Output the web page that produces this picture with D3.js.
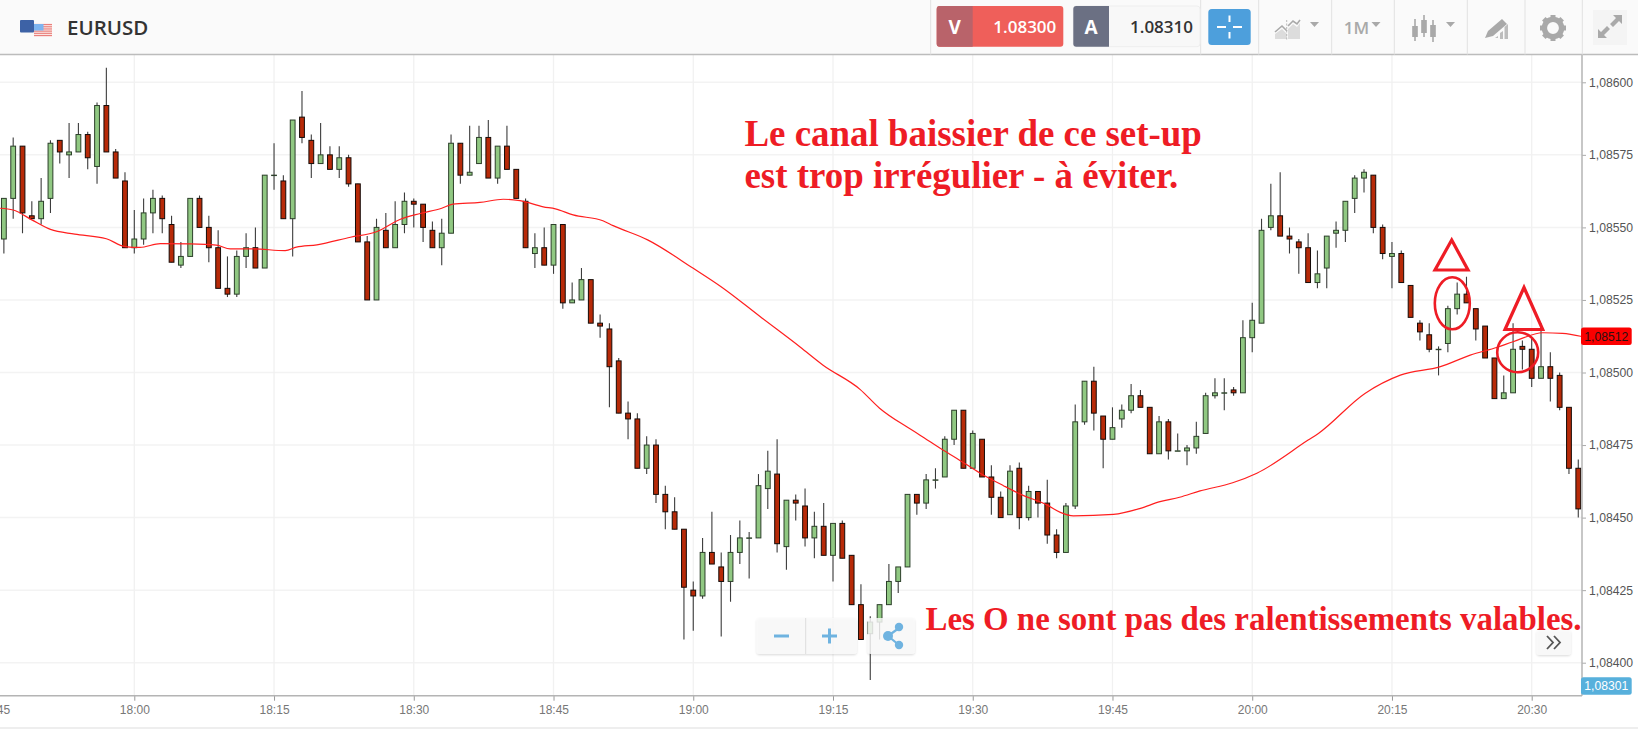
<!DOCTYPE html>
<html>
<head>
<meta charset="utf-8">
<title>EURUSD</title>
<script src="https://cdn.jsdelivr.net/npm/d3@7"></script>
<style>
  html, body { margin: 0; padding: 0; background: #fff; overflow: hidden; }
  svg { display: block; }
</style>
</head>
<body>
<svg id="chart" width="1638" height="730"></svg>
<script>
// prices are in points above 1.08000, one candle per minute
const firstMinute = -14; // 17:46
const opens = [546,560,578,554,553,560,580,575,576,582,571,592,576,566,543,546,555,560,551,537,540,560,550,543,529,527,540,543,536,568,
  566,553,588,580,572,575,570,574,565,545,525,549,543,551,559,558,549,543,548,579,568,572,581,567,578,570,559,541,543,537,
  551,524,525,532,517,515,504,486,484,467,475,458,452,446,425,423,438,433,428,438,443,443,460,465,440,456,454,443,447,437,
  448,437,420,410,414,420,428,433,458,455,463,464,477,487,467,477,464,457,451,467,450,459,455,444,438,454,483,497,485,477,
  484,487,492,488,472,483,473,473,474,479,492,493,494,493,512,517,550,554,547,545,543,531,536,548,549,560,567,568,550,540,
  541,530,517,513,508,510,522,527,522,516,505,491,493,509,508,498,502,499,488,467];
const highs = [560,581,578,559,567,580,580,586,586,583,593,605,577,569,556,560,563,561,554,545,560,561,554,549,540,542,548,550,568,579,
  568,587,597,582,586,578,578,575,565,547,553,555,559,562,560,558,552,553,582,579,585,585,587,578,585,570,560,548,550,551,
  551,531,536,532,520,517,505,490,486,478,477,461,457,446,428,443,452,438,444,449,445,465,473,477,456,458,460,452,455,448,
  449,437,427,416,420,434,433,458,458,465,467,478,487,487,480,477,468,459,468,469,461,459,463,446,455,489,497,502,485,488,
  489,496,494,488,485,484,479,475,483,493,498,498,495,518,524,553,565,569,550,546,548,542,547,552,559,568,570,568,551,545,
  542,530,518,517,509,523,531,533,522,516,505,499,517,511,512,517,507,500,488,470];
const lows = [541,553,548,553,551,555,572,567,576,570,565,576,567,543,541,544,548,548,538,536,540,550,538,529,526,526,536,536,536,563,
  553,540,579,567,572,570,567,564,545,525,525,543,543,548,550,545,543,537,548,565,568,572,567,565,570,560,543,536,537,534,
  522,524,525,517,512,488,486,477,467,465,455,446,446,408,411,422,434,409,421,434,429,443,453,438,432,449,440,436,437,428,
  436,420,408,394,408,420,424,433,451,453,460,464,475,467,467,464,451,450,451,446,449,450,441,436,438,453,482,480,467,477,
  481,486,488,472,472,470,473,468,472,479,491,487,492,493,507,517,549,547,541,534,531,529,529,543,545,555,562,548,539,529,
  531,519,511,507,499,507,520,524,511,505,491,491,493,501,495,498,490,487,465,450];
const closes = [560,578,555,553,559,579,576,576,582,574,592,576,567,543,546,555,560,553,538,540,560,550,543,529,527,540,543,536,568,568,
  553,587,581,572,575,570,574,565,545,525,550,543,551,559,558,550,543,548,579,568,569,581,567,578,570,560,543,543,537,551,
  524,525,532,517,516,502,486,484,467,475,458,452,446,426,423,438,434,428,438,443,443,461,466,441,456,455,443,447,437,448,
  436,420,408,414,420,428,433,458,455,463,463,477,487,467,479,464,457,450,466,450,459,455,444,438,454,483,497,486,477,481,
  487,492,488,472,483,473,473,474,478,492,493,493,493,512,518,549,554,547,546,543,531,534,547,549,559,567,569,550,541,541,
  531,519,514,508,508,522,527,524,515,505,491,493,508,508,498,502,498,488,467,453];

// moving average: minutes from 18:00, points above 1.08000
const maMinutes = [-14.4,-13,-11,-9,-6.4,-3,-1,0.6,2.8,6,8.8,10.3,12.7,16.2,17.4,19.6,23.2,26,28.5,30.7,33,34.2,37.1,39.6,41.4,43.9,45.2,47.1,
  50.3,51.4,55.1,60,63.1,67.2,71.5,73.9,77.9,80,83,84.3,86.8,88.3,90.8,93.3,95.1,98,99.4,100.8,105.1,108,110.1,112.2,114.4,117.9,120.5,
  126,127.1,132.1,135.9,140.2,143.4,146.3,148,151.2,153.3,155.4];
const maValues = [556.6,556,552.6,549.3,547.7,546.1,543.4,543.1,544.4,544.3,543.9,542.6,542.6,542,543.2,544,546.6,548.5,552.7,554.8,556.6,558,
  558.6,559.7,559.2,557.1,556.4,554.3,552.3,550.6,545.7,535.9,529.3,519.2,508.7,502.6,494.2,487.7,481.1,478.5,473.3,470.4,465.3,461,458.1,
  454.3,451.8,450.6,451.1,453.2,455.5,457,459.2,462,465.3,476.7,479,492.8,499.1,502,506,508.7,510.6,513.7,513.5,512.4];

const timeMinutes = [-15,0,15,30,45,60,75,90,105,120,135,150];
const timeLabels = ["17:45","18:00","18:15","18:30","18:45","19:00","19:15","19:30","19:45","20:00","20:15","20:30"];
const priceTicks = [400,425,450,475,500,525,550,575,600];

const axisFont = "'Liberation Sans', Arial, sans-serif";
const uiFont = "'Open Sans', sans-serif";
const serifFont = "'Liberation Serif', 'Times New Roman', serif";
const annotationRed = "#ee1c25";

const svg = d3.select("#chart");
const x = d3.scaleLinear().domain([0, 150]).range([134.3, 1531.7]);
const y = d3.scaleLinear().domain([400, 600]).range([662.7, 82.3]);
const plotRight = 1582, plotTop = 54.5, plotBottom = 695.7;

svg.append("clipPath").attr("id", "plot").append("rect")
  .attr("x", 0).attr("y", plotTop).attr("width", plotRight).attr("height", plotBottom - plotTop);

const plot = svg.append("g").attr("clip-path", "url(#plot)");

// grid
plot.selectAll(".hgrid").data(priceTicks).join("line")
  .attr("x1", 0).attr("x2", plotRight)
  .attr("y1", d => y(d)).attr("y2", d => y(d))
  .attr("stroke", "#f3f3f3").attr("stroke-width", 1.5);
plot.selectAll(".vgrid").data(timeMinutes).join("line")
  .attr("x1", d => x(d)).attr("x2", d => x(d))
  .attr("y1", plotTop).attr("y2", plotBottom)
  .attr("stroke", "#f1f1f1").attr("stroke-width", 1.3);

// candles
const candles = opens.map((o, i) => ({
  minute: firstMinute + i, open: o, high: highs[i], low: lows[i], close: closes[i]
}));
plot.selectAll(".wick").data(candles).join("line")
  .attr("x1", d => x(d.minute)).attr("x2", d => x(d.minute))
  .attr("y1", d => y(d.high)).attr("y2", d => y(d.low))
  .attr("stroke", "#3c3c3c").attr("stroke-width", 1.1);
plot.selectAll(".body").data(candles).join("rect")
  .attr("x", d => x(d.minute) - 2.4)
  .attr("width", 4.8)
  .attr("y", d => y(Math.max(d.open, d.close)))
  .attr("height", d => Math.max(0.4, Math.abs(y(d.open) - y(d.close))))
  .attr("fill", d => d.close >= d.open ? "#90c882" : "#b72a08")
  .attr("stroke", d => d.close >= d.open ? "#2c3f2a" : "#140b08")
  .attr("stroke-width", 1);

// moving average
const maLine = d3.line().x(d => x(d[0])).y(d => y(d[1])).curve(d3.curveMonotoneX);
plot.append("path")
  .datum(maMinutes.map((m, i) => [m, maValues[i]]))
  .attr("d", maLine)
  .attr("fill", "none").attr("stroke", "#ff1f1f").attr("stroke-width", 1.2);

// axes
const yAxis = d3.axisRight(y).tickValues(priceTicks).tickSize(4).tickPadding(3)
  .tickFormat(d => (1.08 + d / 100000).toFixed(5).replace(".", ","));
const yg = svg.append("g").attr("transform", `translate(${plotRight},0)`).call(yAxis);
yg.select(".domain").remove();
yg.selectAll("line").attr("stroke", "#aaa");
yg.selectAll("text").attr("font-family", axisFont).attr("font-size", 12.2).attr("fill", "#555");

const xAxis = d3.axisBottom(x).tickValues(timeMinutes).tickSize(5).tickPadding(5)
  .tickFormat((d, i) => timeLabels[i]);
const xg = svg.append("g").attr("transform", `translate(0,${plotBottom})`).call(xAxis);
xg.select(".domain").remove();
xg.selectAll("line").attr("stroke", "#999");
xg.selectAll("text").attr("font-family", axisFont).attr("font-size", 12).attr("fill", "#777");

svg.append("line").attr("x1", plotRight).attr("x2", plotRight).attr("y1", plotTop).attr("y2", plotBottom)
  .attr("stroke", "#b4b4b4").attr("stroke-width", 1.5);
svg.append("line").attr("x1", 0).attr("x2", plotRight).attr("y1", plotBottom).attr("y2", plotBottom)
  .attr("stroke", "#b4b4b4").attr("stroke-width", 1.5);
svg.append("line").attr("x1", 0).attr("x2", 1638).attr("y1", 728).attr("y2", 728)
  .attr("stroke", "#ddd");

// price tags
function priceTag(yMid, text, fill, color) {
  svg.append("rect").attr("x", 1581).attr("y", yMid - 8.8).attr("width", 50.7).attr("height", 17.6)
    .attr("rx", 2.5).attr("fill", fill);
  svg.append("text").attr("x", 1606.3).attr("y", yMid + 4.3).attr("text-anchor", "middle")
    .attr("font-family", axisFont).attr("font-size", 12.2).attr("fill", color).text(text);
}
priceTag(y(maValues[maValues.length - 1]) - 0.2, "1,08512", "#fb0000", "#2a1010");
priceTag(686, "1,08301", "#57b0dc", "#fff");

// floating controls
const soft = svg.append("defs").append("filter").attr("id", "soft")
  .attr("x", "-10%").attr("y", "-10%").attr("width", "120%").attr("height", "130%");
soft.append("feDropShadow").attr("dx", 0).attr("dy", 1).attr("stdDeviation", 1)
  .attr("flood-color", "#000").attr("flood-opacity", 0.18);

function floatBox(bx, by, w, h) {
  svg.append("rect").attr("x", bx).attr("y", by).attr("width", w).attr("height", h).attr("rx", 3)
    .attr("fill", "#fafafa").attr("fill-opacity", 0.82).attr("filter", "url(#soft)");
}
const controlBlue = "#6fb3e0";
floatBox(756.7, 618, 100, 36);
svg.append("line").attr("x1", 805.7).attr("x2", 805.7).attr("y1", 618).attr("y2", 654).attr("stroke", "#ddd");
svg.append("rect").attr("x", 774).attr("y", 634.5).attr("width", 15).attr("height", 3).attr("fill", controlBlue);
svg.append("rect").attr("x", 822).attr("y", 634.5).attr("width", 15).attr("height", 3).attr("fill", controlBlue);
svg.append("rect").attr("x", 828).attr("y", 628.5).attr("width", 3).attr("height", 15).attr("fill", controlBlue);

floatBox(867.7, 618, 47, 36);
svg.append("path").attr("d", "M888 636 L899 628 M888 636 L899 645")
  .attr("stroke", controlBlue).attr("stroke-width", 2.2);
[[888, 636, 5], [899, 627, 4.2], [899, 645, 4.2]].forEach(c => {
  svg.append("circle").attr("cx", c[0]).attr("cy", c[1]).attr("r", c[2]).attr("fill", controlBlue);
});

floatBox(1536.7, 630, 34, 25);
svg.append("path").attr("d", "M1547 636 L1553 642.5 L1547 649 M1554 636 L1560 642.5 L1554 649")
  .attr("fill", "none").attr("stroke", "#555").attr("stroke-width", 1.8);

// toolbar
svg.append("rect").attr("width", 1638).attr("height", plotTop).attr("fill", "#fafafa");
svg.append("line").attr("x1", 0).attr("x2", 1638).attr("y1", plotTop).attr("y2", plotTop)
  .attr("stroke", "#bcbcbc").attr("stroke-width", 1.3);
[930.7, 1200.7, 1258.7, 1331.7, 1394.3, 1467.3, 1525, 1582.3].forEach(sx => {
  svg.append("line").attr("x1", sx).attr("x2", sx).attr("y1", 0).attr("y2", plotTop).attr("stroke", "#e2e2e2");
});

// flags
svg.append("rect").attr("x", 20).attr("y", 20).attr("width", 14).attr("height", 12.5).attr("rx", 1).attr("fill", "#3d62a6");
svg.append("rect").attr("x", 34).attr("y", 23.5).attr("width", 18).attr("height", 13).attr("fill", "#fbe3e1");
d3.range(6).forEach(i => {
  svg.append("rect").attr("x", 34).attr("y", 24 + i * 2.2).attr("width", 18).attr("height", 1.1).attr("fill", "#e9807c");
});
svg.append("rect").attr("x", 34).attr("y", 24).attr("width", 9.5).attr("height", 6.5).attr("fill", "#7db4f0");

svg.append("text").attr("x", 67).attr("y", 34.5).attr("font-family", uiFont).attr("font-weight", 600)
  .attr("font-size", 20.5).attr("fill", "#333").text("EURUSD");

function quoteBox(bx, w, head, text, headFill, bodyFill, textColor, label) {
  svg.append("rect").attr("x", bx).attr("y", 6).attr("width", w).attr("height", 40.7).attr("rx", 3).attr("fill", bodyFill)
    .attr("stroke", bodyFill === "#f8f8f8" ? "#eee" : "none");
  svg.append("path")
    .attr("d", `M${bx + head} 6 H${bx + 3} Q${bx} 6 ${bx} 9 V43.7 Q${bx} 46.7 ${bx + 3} 46.7 H${bx + head} Z`)
    .attr("fill", headFill);
  svg.append("text").attr("x", bx + head / 2).attr("y", 33.5).attr("text-anchor", "middle")
    .attr("font-family", uiFont).attr("font-weight", 700).attr("font-size", 19).attr("fill", "#fff").text(label);
  svg.append("text").attr("x", bx + w - 7).attr("y", 32.5).attr("text-anchor", "end")
    .attr("font-family", uiFont).attr("font-weight", 600).attr("font-size", 17).attr("fill", textColor).text(text);
}
quoteBox(936.7, 126.6, 36, "1.08300", "#b9636a", "#ef5f5a", "#fff", "V");
quoteBox(1073.3, 126.7, 35.7, "1.08310", "#6b7083", "#f8f8f8", "#333", "A");

svg.append("rect").attr("x", 1208.3).attr("y", 9).attr("width", 42.4).attr("height", 36).attr("rx", 3.5).attr("fill", "#4d9fdc");
svg.append("path").attr("d", "M1217 27 H1226 M1233 27 H1242 M1229.5 15.5 V22 M1229.5 32 V38.5")
  .attr("stroke", "#fff").attr("stroke-width", 2).attr("fill", "none");

// toolbar icons
const iconGrey = "#a9a9a9";
svg.append("path").attr("d", "M1275 32 L1282 26 L1287 31 M1288 26 L1293 21 L1297 24 L1300 20")
  .attr("fill", "none").attr("stroke", iconGrey).attr("stroke-width", 1.6);
svg.append("path").attr("d", "M1275 34 L1282 29 L1287 34 V39 H1275 Z M1288 29 L1293 24 L1297 27 L1300 23 V39 H1288 Z")
  .attr("fill", "#dcdcdc");
svg.append("line").attr("x1", 1286.7).attr("x2", 1286.7).attr("y1", 20).attr("y2", 40).attr("stroke", "#bbb").attr("stroke-dasharray", "2,1.5");
const caret = cx => `M${cx - 4.5} 22 H${cx + 4.5} L${cx} 27 Z`;
[1314.5, 1376, 1450.5].forEach(cx => svg.append("path").attr("d", caret(cx)).attr("fill", iconGrey));

svg.append("text").attr("x", 1356.5).attr("y", 34).attr("text-anchor", "middle").attr("font-family", uiFont)
  .attr("font-weight", 600).attr("font-size", 17).attr("fill", iconGrey).text("1M");

[[1415, 19, 41, 26, 37], [1424, 15, 37, 20, 33], [1433, 20, 42, 25, 37]].forEach(c => {
  svg.append("line").attr("x1", c[0]).attr("x2", c[0]).attr("y1", c[1]).attr("y2", c[2]).attr("stroke", iconGrey).attr("stroke-width", 1.6);
  svg.append("rect").attr("x", c[0] - 2.8).attr("y", c[3]).attr("width", 5.6).attr("height", c[4] - c[3]).attr("fill", iconGrey);
});

svg.append("path").attr("d", "M1485 38 L1488 31 L1502 19 L1507 24 L1493 36 Z").attr("fill", iconGrey);
svg.append("path").attr("d", "M1495 38 L1498 38 V36 L1495 38 Z M1500 39 V33 L1503 31 V39 Z M1504.5 39 V27 L1508 24 V39 Z").attr("fill", "#bdbdbd");

svg.append("circle").attr("cx", 1553).attr("cy", 28).attr("r", 8.6).attr("fill", "none").attr("stroke", iconGrey).attr("stroke-width", 5.4);
d3.range(8).forEach(i => {
  svg.append("rect").attr("x", 1550.5).attr("y", 15).attr("width", 5).attr("height", 5).attr("fill", iconGrey)
    .attr("transform", `rotate(${i * 45} 1553 28)`);
});

svg.append("rect").attr("x", 1593).attr("y", 10).attr("width", 34).attr("height", 35).attr("fill", "#f4f4f4");
svg.append("path").attr("d", "M1613 15 H1622 V24 L1619 21 L1613 27 L1610 24 L1616 18 Z M1598 38 V29 L1601 32 L1607 26 L1610 29 L1604 35 L1607 38 Z")
  .attr("fill", iconGrey);

// annotations on top of the chart
const notes = svg.append("g").attr("fill", annotationRed).attr("font-family", serifFont).attr("font-weight", 700);
notes.append("text").attr("x", 744.5).attr("y", 146).attr("font-size", 36.9).text("Le canal baissier de ce set-up");
notes.append("text").attr("x", 744.5).attr("y", 188).attr("font-size", 36.9).text("est trop irrégulier - à éviter.");
notes.append("text").attr("x", 925.5).attr("y", 630).attr("font-size", 32.9).text("Les O ne sont pas des ralentissements valables.");

const marks = svg.append("g").attr("fill", "none").attr("stroke", annotationRed);
marks.append("path").attr("d", "M1451.7 240 L1468 270 H1435 Z").attr("stroke-width", 3.2);
marks.append("path").attr("d", "M1524 287.5 L1542.7 329.5 H1505 Z").attr("stroke-width", 3.2);
marks.append("ellipse").attr("cx", 1452.3).attr("cy", 303.3).attr("rx", 17.5).attr("ry", 26).attr("stroke-width", 2.6);
marks.append("ellipse").attr("cx", 1517.7).attr("cy", 352.3).attr("rx", 20.5).attr("ry", 20).attr("stroke-width", 2.6);
</script>
</body>
</html>
